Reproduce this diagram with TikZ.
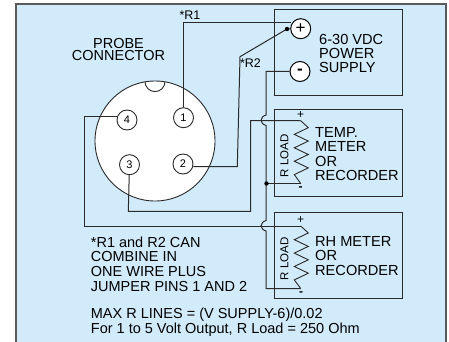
\documentclass[tikz,border=0pt]{standalone}
\usepackage{fontspec}
\setmainfont{Liberation Sans}
\definecolor{panelblue}{RGB}{209,235,250}
\definecolor{wirecol}{HTML}{2A2A2A}
\definecolor{framecol}{HTML}{5A5A5A}
\begin{document}
\begin{tikzpicture}[x=1pt,y=-1pt,
    wire/.style ={draw=wirecol, line width=1pt},
    pin/.style ={circle, draw=wirecol, fill=white, line width=0.9pt, inner sep=0pt, minimum size=20pt, font=\fontsize{11}{11}\selectfont},
    terminal/.style ={circle, draw=black, fill=white, line width=1pt, inner sep=0pt, minimum size=20pt, font=\fontsize{17}{17}\selectfont},
    unit/.style ={rectangle, draw=wirecol, line width=1pt, inner sep=0pt, minimum width=127.6pt},
    txt/.style ={inner sep=0pt, anchor=west, align=left, font=\fontsize{14.6}{14.4}\selectfont},
    polarity/.style ={inner sep=0pt, font=\fontsize{12}{12}\selectfont}]
   \useasboundingbox (0,0) rectangle (449,342);
   \path[fill=panelblue] (16,4) rectangle (446,342);
   \draw[framecol, line width=1.5pt] (16,342) -- (16,4) -- (446,4) -- (446,342);
   % connector
   \node[circle, draw=wirecol, fill=white, line width=0.9pt, inner sep=0pt, minimum size=120pt] (probe) at (155,141) {};
   \draw[wirecol, line width=0.9pt] (145,81.6) arc[start angle=180, end angle=0, radius=10];
   \node[inner sep=0pt, align=center, font=\fontsize{14.5}{12.7}\selectfont] (title) at (118.5,49.5) {PROBE\\CONNECTOR};
   \node[pin] (P1) at (183.5,117.7) {1};
   \node[pin] (P2) at (183,164) {2};
   \node[pin] (P3) at (129.5,164.7) {3};
   \node[pin] (P4) at (127,120) {4};
   % boxes
   \node[unit, minimum height=86.3pt] (power) at (338.5,52.2) {};
   \node[unit, minimum height=86.7pt] (temp) at (338.5,152.7) {};
   \node[unit, minimum height=86pt] (rh) at (338.5,255.7) {};
   \node[terminal] (plus) at (300.7,28.7) {+};
   \node[terminal] (minus) at (300,71.5) {\bfseries -};
   \node[txt] (powertxt) at (319,53.5) {6-30 VDC\\POWER\\SUPPLY};
   \node[txt] (temptxt) at (315,154) {TEMP.\\METER\\OR\\RECORDER};
   \node[txt] (rhtxt) at (315,256) {RH METER\\OR\\RECORDER};
   \node[rotate=90, inner sep=0pt, font=\fontsize{11.5}{11.5}\selectfont] (tload) at (284.3,156) {R LOAD};
   \node[rotate=90, inner sep=0pt, font=\fontsize{11.5}{11.5}\selectfont] (rload) at (284.3,259) {R LOAD};
   \node[polarity] (tplus) at (300.5,115) {+};
   \node[polarity] (tminus) at (300.7,189) {\bfseries -};
   \node[polarity] (rplus) at (300.7,219.7) {+};
   \node[polarity] (rminus) at (301,294) {\bfseries -};
   % wire points
   \coordinate (R1a) at (183.5,22.7);
   \coordinate (R1b) at (290.5,22.7);
   \coordinate (R2a) at (237.3,166.7);
   \coordinate (R2b) at (240,56.7);
   \coordinate (R2c) at (287,29);
   \coordinate (P3a) at (128.3,211.3);
   \coordinate (P3b) at (250.7,211.3);
   \coordinate (P4a) at (84,116.3);
   \coordinate (P4b) at (84,226);
   \coordinate (Ttop) at (300.7,120.7);
   \coordinate (Tbot) at (300.7,183.5);
   \coordinate (Rtop) at (300.7,226);
   \coordinate (Rbot) at (300.7,288.5);
   \coordinate (hopAa) at (266,115);
   \coordinate (hopAb) at (266,125.5);
   \coordinate (hopBa) at (266,220.5);
   \coordinate (hopBb) at (266,231);
   \coordinate (corner) at (266,71.5);
   \coordinate (corneb) at (266,288.5);
   \coordinate (join) at (266.5,183.5);
   % wires
   \draw[wire] (P1) -- (R1a) -- (R1b);
   \draw[wire] (P2.east |- R2a) -- (R2a) -- (R2b) -- (R2c) -- (plus);
   \fill[black] (R2c) circle (2.2);
   \draw[wire] (P3) -- (P3a) -- (P3b) |- (Ttop);
   \draw[wire] (P4.west |- P4a) -- (P4a) -- (P4b) -- (Rtop);
   \draw[wire] (minus) -- (corner) -- (hopAa) .. controls (259.5,117) and (259.5,123.5) .. (hopAb) -- (hopBa) .. controls (259.5,222.5) and (259.5,229) .. (hopBb) -- (corneb) -- (Rbot);
   \draw[wire] (join) -- (Tbot);
   \fill[black] (join) circle (2.2);
   % load resistors
   \foreach \tp/\bt in {Ttop/Tbot, Rtop/Rbot}
     \draw[wire, line width=0.9pt] (\tp) -- ++(7.6,7) -- ++(-14,6.7) -- ++(14,6.7) -- ++(-14,6.7) -- ++(14,6.7) -- ++(-14,6.7) -- ++(14,6.7) -- ++(-14,6.7) -- (\bt);
   % notes
   \node[txt, font=\fontsize{14.5}{14.6}\selectfont] (note) at (90.7,264) {*R1 and R2 CAN\\COMBINE IN\\ONE WIRE PLUS\\JUMPER PINS 1 AND 2};
   \node[txt, font=\fontsize{14.5}{15}\selectfont] (maxr) at (90.7,322.5) {MAX R LINES = (V SUPPLY-6)/0.02\\For 1 to 5 Volt Output, R Load = 250 Ohm};
   \node[inner sep=0pt, font=\fontsize{12.5}{12.5}\selectfont] (rone) at (190,15.7) {*R1};
   \node[inner sep=0pt, font=\fontsize{12.5}{12.5}\selectfont] (rtwo) at (250.5,63.3) {*R2};
\end{tikzpicture}
\end{document}
